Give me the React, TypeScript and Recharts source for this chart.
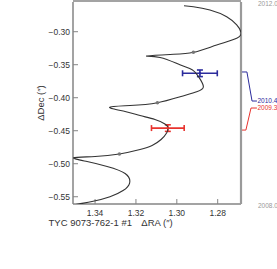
import React from 'react'
import {
  ScatterChart,
  Scatter,
  XAxis,
  YAxis,
  ErrorBar,
  ReferenceLine,
} from 'recharts'

// predicted path of the companion (RA, Dec in arcsec)
const curveRA = [
  1.3561, 1.3483, 1.3415, 1.3327, 1.3263, 1.3231, 1.3253, 1.3341, 1.3439, 1.3505,
  1.34, 1.3281, 1.318, 1.3121, 1.3077, 1.305, 1.3043, 1.3058, 1.3107, 1.318,
  1.3253, 1.3329, 1.3229, 1.3095, 1.2984, 1.2903, 1.287, 1.2893, 1.2925, 1.2985,
  1.3082, 1.3147, 1.3033, 1.2919, 1.2805, 1.2707, 1.2686, 1.2707, 1.2756, 1.2838,
  1.2919, 1.2965,
]
const curveDec = [
  -0.5664, -0.5611, -0.5573, -0.55, -0.5406, -0.5292, -0.5148, -0.5042, -0.4967, -0.4909,
  -0.4891, -0.4853, -0.4785, -0.4724, -0.4633, -0.4535, -0.4459, -0.4398, -0.433, -0.427,
  -0.4209, -0.4145, -0.4118, -0.4076, -0.3985, -0.3909, -0.3833, -0.3685, -0.3575, -0.3502,
  -0.3391, -0.3368, -0.3345, -0.3312, -0.3202, -0.31, -0.3009, -0.2898, -0.2773, -0.2671,
  -0.2621, -0.2606,
]

// yearly markers on the path
const markRA = [1.3281, 1.3095, 1.2919]
const markDec = [-0.4853, -0.4076, -0.3312]

// measured positions
const obsEpochs = ['2010.4', '2009.3']
const obsRA = [1.2887, 1.3044]
const obsDec = [-0.363, -0.446]
const obsRAErr = [0.0085, 0.008]
const obsDecErr = [0.005, 0.005]
const obsColors = ['#2b2b9c', '#e8332e']

// leader lines from the right axis to the epoch labels
const leaderDec = [-0.361, -0.449]
const leaderLabelDec = [-0.405, -0.4156]
const leaderKnee1 = [1.2657, 1.2662]
const leaderKnee2 = [1.2632, 1.2637]
const leaderEnd = [1.2608, 1.2608]

const raTicks = [1.28, 1.3, 1.32, 1.34]
const raMinorTicks = [
  1.27, 1.275, 1.28, 1.285, 1.29, 1.295, 1.3, 1.305, 1.31, 1.315, 1.32, 1.325, 1.33,
  1.335, 1.34, 1.345, 1.35,
]
const decTicks = [-0.55, -0.5, -0.45, -0.4, -0.35, -0.3]
const decMinorTicks = [
  -0.56, -0.55, -0.54, -0.53, -0.52, -0.51, -0.5, -0.49, -0.48, -0.47, -0.46, -0.45,
  -0.44, -0.43, -0.42, -0.41, -0.4, -0.39, -0.38, -0.37, -0.36, -0.35, -0.34, -0.33,
  -0.32, -0.31, -0.3, -0.29, -0.28, -0.27, -0.26,
]
const timeTicks = [2008, 2012]

const raDomain: [number, number] = [1.2686, 1.3508]
const decDomain: [number, number] = [-0.561, -0.255]
const timeDomain: [number, number] = [2008, 2012]

const curveData = curveRA.map((x, i) => ({ x, y: curveDec[i] }))
const markData = markRA.map((x, i) => ({ x, y: markDec[i] }))

const axisColor = '#858585'
const gridColor = '#c4c4c4'
const textColor = '#333'

const fmtDec = (v: number) => (v < 0 ? '\u2212' : '') + Math.abs(v).toFixed(2)

function TimeTick(props: any) {
  const { x, y, payload } = props
  return (
    <text x={x} y={y + 1.8} dominantBaseline="central" fontSize={6.5} fill="#999">
      {Number(payload.value).toFixed(1)}
    </text>
  )
}

export default function App() {
  return (
    <div
      style={{
        position: 'absolute',
        left: 0,
        top: 0,
        background: '#fff',
        fontFamily: '"Liberation Sans", Arial, sans-serif',
      }}
    >
      <ScatterChart width={277} height={269} margin={{ top: 0, right: 33, bottom: 62, left: 70 }}>
        {/* grid lines, drawn as full-length ticks at the major values */}
        <XAxis
          xAxisId="gx"
          type="number"
          domain={raDomain}
          reversed
          allowDataOverflow
          ticks={raTicks}
          interval={0}
          height={1}
          tickSize={-203}
          tick={false}
          axisLine={false}
          tickLine={{ stroke: gridColor, strokeWidth: 1 }}
        />
        <YAxis
          yAxisId="gy"
          type="number"
          domain={decDomain}
          allowDataOverflow
          ticks={decTicks}
          interval={0}
          width={1}
          tickSize={-169}
          tick={false}
          axisLine={false}
          tickLine={{ stroke: gridColor, strokeWidth: 1 }}
        />

        {/* bottom axis with labels */}
        <XAxis
          xAxisId={0}
          type="number"
          dataKey="x"
          domain={raDomain}
          reversed
          allowDataOverflow
          ticks={raTicks}
          interval={0}
          height={1}
          tickSize={-5}
          tickMargin={11}
          tickFormatter={(v: number) => v.toFixed(2)}
          tick={{ fontSize: 8.5, fill: textColor }}
          axisLine={{ stroke: axisColor, strokeWidth: 1.5 }}
          tickLine={{ stroke: axisColor }}
          label={{
            content: ({ viewBox }: any) => (
              <g>
                <text
                  x={viewBox.x + viewBox.width / 2 - 25}
                  y={viewBox.y + 21.5}
                  textAnchor="end"
                  fontSize={9.5}
                  fill={textColor}
                >
                  TYC 9073-762-1 #1
                </text>
                <text
                  x={viewBox.x + viewBox.width / 2}
                  y={viewBox.y + 21.5}
                  textAnchor="middle"
                  fontSize={9.5}
                  fill={textColor}
                >
                  {'\u0394RA  (\u2033)'}
                </text>
              </g>
            ),
          }}
        />
        <XAxis
          xAxisId="bm"
          type="number"
          domain={raDomain}
          reversed
          allowDataOverflow
          ticks={raMinorTicks}
          interval={0}
          height={1}
          tickSize={-3}
          tick={false}
          axisLine={false}
          tickLine={{ stroke: axisColor }}
        />
        <XAxis
          xAxisId="top"
          orientation="top"
          type="number"
          domain={raDomain}
          reversed
          allowDataOverflow
          ticks={raTicks}
          interval={0}
          height={1}
          tickSize={-5}
          tick={false}
          axisLine={{ stroke: axisColor, strokeWidth: 1.5 }}
          tickLine={{ stroke: axisColor }}
        />
        <XAxis
          xAxisId="tm"
          orientation="top"
          type="number"
          domain={raDomain}
          reversed
          allowDataOverflow
          ticks={raMinorTicks}
          interval={0}
          height={1}
          tickSize={-3}
          tick={false}
          axisLine={false}
          tickLine={{ stroke: axisColor }}
        />

        {/* left axis with labels */}
        <YAxis
          yAxisId={0}
          type="number"
          dataKey="y"
          domain={decDomain}
          allowDataOverflow
          ticks={decTicks}
          interval={0}
          width={1}
          tickSize={-5}
          tickMargin={8}
          tickFormatter={fmtDec}
          tick={{ fontSize: 8.5, fill: textColor }}
          axisLine={{ stroke: axisColor, strokeWidth: 1.5 }}
          tickLine={{ stroke: axisColor }}
          label={{
            content: ({ viewBox }: any) => {
              const cx = viewBox.x - 32
              const cy = viewBox.y + viewBox.height / 2
              return (
                <text
                  x={cx}
                  y={cy}
                  transform={`rotate(-90, ${cx}, ${cy})`}
                  textAnchor="middle"
                  dominantBaseline="central"
                  fontSize={9.5}
                  fill={textColor}
                >
                  {'\u0394Dec  (\u2033)'}
                </text>
              )
            },
          }}
        />
        <YAxis
          yAxisId="lm"
          type="number"
          domain={decDomain}
          allowDataOverflow
          ticks={decMinorTicks}
          interval={0}
          width={1}
          tickSize={-3}
          tick={false}
          axisLine={false}
          tickLine={{ stroke: axisColor }}
        />
        <YAxis
          yAxisId="r"
          orientation="right"
          type="number"
          domain={decDomain}
          allowDataOverflow
          ticks={decTicks}
          interval={0}
          width={1}
          tickSize={-5}
          tick={false}
          axisLine={{ stroke: '#9a9a9a', strokeWidth: 2.2 }}
          tickLine={{ stroke: axisColor }}
        />
        <YAxis
          yAxisId="rm"
          orientation="right"
          type="number"
          domain={decDomain}
          allowDataOverflow
          ticks={decMinorTicks}
          interval={0}
          width={1}
          tickSize={-3}
          tick={false}
          axisLine={false}
          tickLine={{ stroke: axisColor }}
        />
        <YAxis
          yAxisId="t"
          orientation="right"
          type="number"
          domain={timeDomain}
          allowDataOverflow
          ticks={timeTicks}
          interval={0}
          width={1}
          tickSize={6}
          tickMargin={9}
          tick={<TimeTick />}
          axisLine={false}
          tickLine={false}
        />

        <Scatter
          data={curveData}
          line={{ stroke: '#333', strokeWidth: 1.1 }}
          lineJointType="natural"
          shape={() => <g />}
          isAnimationActive={false}
        />
        <Scatter
          data={markData}
          shape={(p: any) => <circle cx={p.cx} cy={p.cy} r={1.8} fill="#777" />}
          isAnimationActive={false}
        />

        {obsEpochs.map((ep, i) => (
          <Scatter
            key={ep}
            data={[{ x: obsRA[i], y: obsDec[i], ex: obsRAErr[i], ey: obsDecErr[i] }]}
            shape={(p: any) => <circle cx={p.cx} cy={p.cy} r={1.2} fill={obsColors[i]} />}
            isAnimationActive={false}
          >
            <ErrorBar dataKey="ex" direction="x" width={3} stroke={obsColors[i]} strokeWidth={1.6} />
            <ErrorBar dataKey="ey" direction="y" width={3} stroke={obsColors[i]} strokeWidth={1.6} />
          </Scatter>
        ))}

        {obsEpochs.map((ep, i) => (
          <ReferenceLine
            key={'a' + ep}
            ifOverflow="visible"
            segment={[
              { x: raDomain[0], y: leaderDec[i] },
              { x: leaderKnee1[i], y: leaderDec[i] },
            ]}
            stroke={obsColors[i]}
            strokeWidth={1}
          />
        ))}
        {obsEpochs.map((ep, i) => (
          <ReferenceLine
            key={'b' + ep}
            ifOverflow="visible"
            segment={[
              { x: leaderKnee1[i], y: leaderDec[i] },
              { x: leaderKnee2[i], y: leaderLabelDec[i] },
            ]}
            stroke={obsColors[i]}
            strokeWidth={1}
          />
        ))}
        {obsEpochs.map((ep, i) => (
          <ReferenceLine
            key={'c' + ep}
            ifOverflow="visible"
            segment={[
              { x: leaderKnee2[i], y: leaderLabelDec[i] },
              { x: leaderEnd[i], y: leaderLabelDec[i] },
            ]}
            stroke={obsColors[i]}
            strokeWidth={1}
            label={{ value: ep, position: 'right', offset: 0.5, fontSize: 6.5, fill: obsColors[i] }}
          />
        ))}
      </ScatterChart>
    </div>
  )
}
